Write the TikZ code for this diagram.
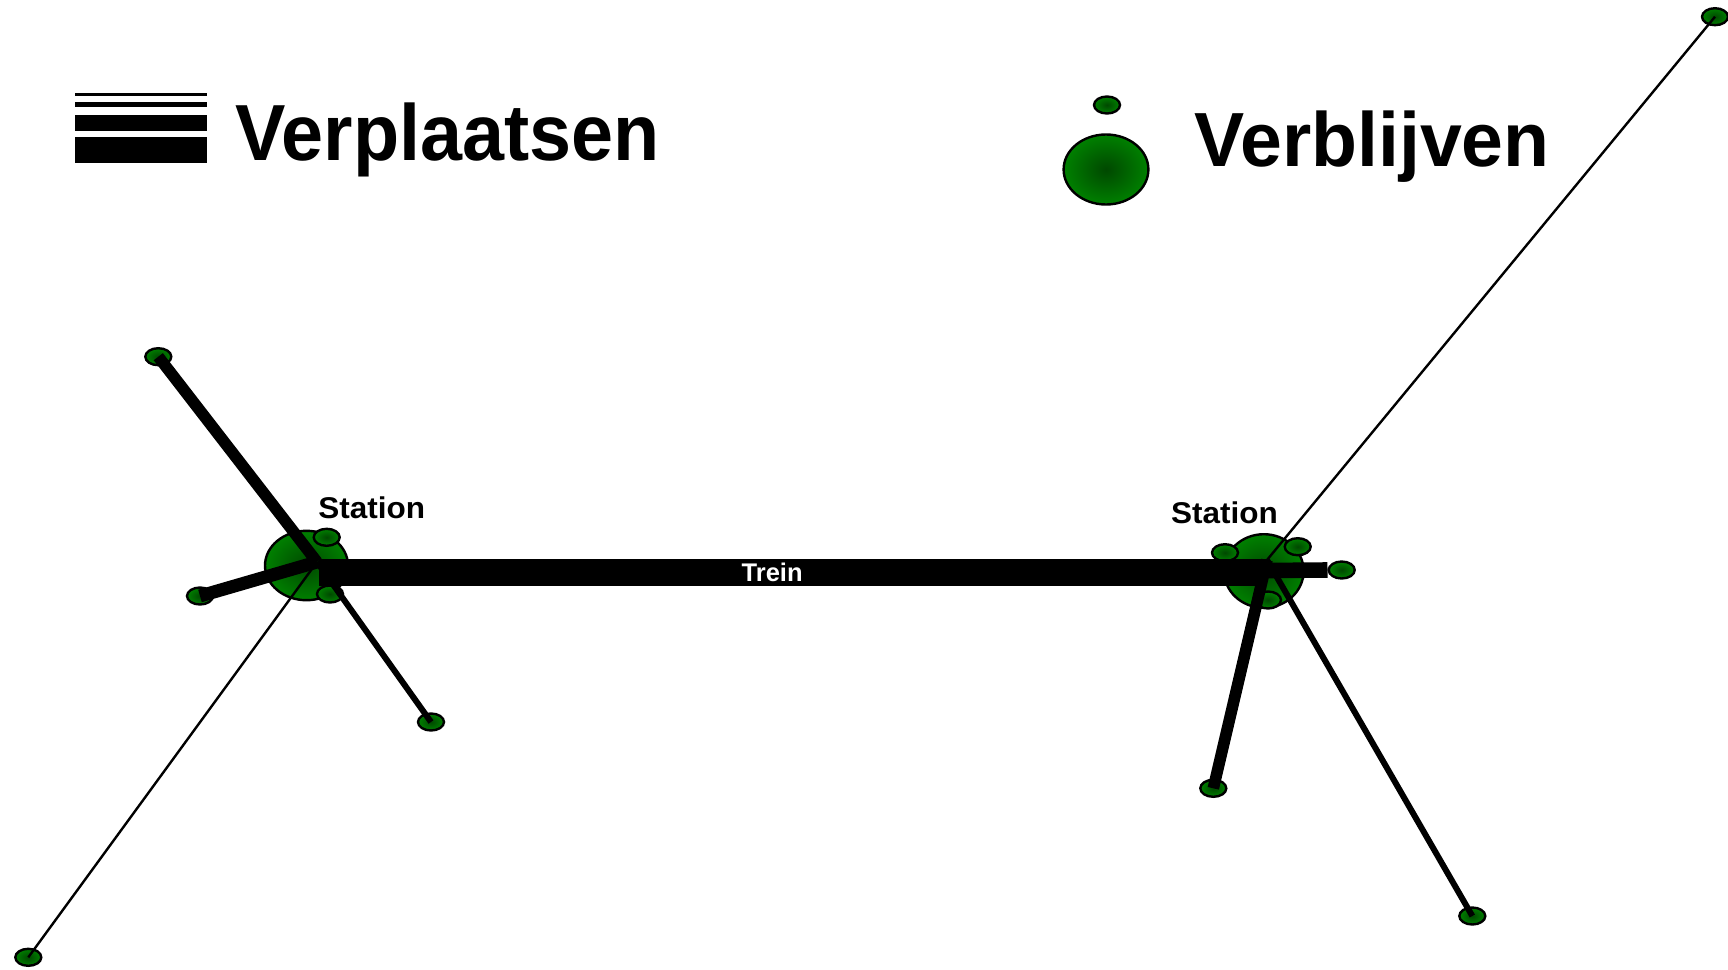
\documentclass[tikz,border=0pt]{standalone}
\usepackage{fontspec}
\setmainfont{Liberation Sans}
\usetikzlibrary{shapes.geometric}
\definecolor{verblijfgroen}{RGB}{0,128,0}
\definecolor{verblijfdonker}{RGB}{0,72,0}
\tikzset{
  verblijf/.style={ellipse, draw, line width=1.2pt, inner sep=0pt,
    inner color=verblijfdonker, outer color=verblijfgroen,
    minimum width=13pt, minimum height=8.5pt},
  groot/.style={verblijf, minimum width=#1},
  dun/.style={line width=1.2pt},
  middel/.style={line width=3pt},
  dik/.style={line width=5.8pt},
  dikker/.style={line width=6.5pt},
  spoor/.style={line width=13.5pt},
  titel/.style={inner sep=0pt, anchor=base west, font=\bfseries\fontsize{#1}{#1}\selectfont},
  treinlabel/.style={inner sep=0pt, text=white, font=\bfseries\fontsize{12.75}{13}\selectfont}
}
\begin{document}
\begin{tikzpicture}[x=0.5pt,y=-0.5pt]
  \useasboundingbox (0,0) rectangle (1728,969);
  % legenda
  \foreach \y/\w in {94.7/1.35, 104.5/2.2, 122.7/8, 150.3/13}
  \draw[line width=\w pt] (75,\y) -- (207,\y);
  \node[titel=39.8] (verplaatsen) at (235,160) {\scalebox{.949}[1]{Verplaatsen}};
  \node[verblijf] (legklein) at (1107,105) {};
  \node[groot=42.4pt, minimum height=35pt] (leggroot) at (1106,169.5) {};
  \node[titel=38.4] (verblijven) at (1194,166) {\scalebox{.979}[1]{Verblijven}};
  % stations
  \node[groot=41.5pt, minimum height=34.7pt] (stationA) at (306.5,565.5) {};
  \node[groot=39.8pt, minimum height=36.8pt] (stationB) at (1263.8,571) {};
  \node[verblijf] (aN) at (326.7,537.3) {};
  \node[verblijf] (aZ) at (330,594) {};
  \node[verblijf] (bW) at (1225,552.7) {};
  \node[verblijf] (bN) at (1297.7,546.7) {};
  \node[verblijf] (bZ) at (1268,600) {};
  \node[titel=15] (labelA) at (318,518.3) {\scalebox{1.05}[1]{Station}};
  \node[titel=15] (labelB) at (1170.7,523) {\scalebox{1.05}[1]{Station}};
  % eindpunten
  \node[verblijf] (aNW) at (158.3,356.7) {};
  \node[verblijf] (aW) at (200,596) {};
  \node[verblijf] (aSE) at (431,722) {};
  \node[verblijf] (aSW) at (28.3,957.3) {};
  \node[verblijf] (bNE) at (1715,16.7) {};
  \node[verblijf] (bE) at (1341.7,570) {};
  \node[verblijf] (bS) at (1213.3,788.3) {};
  \node[verblijf] (bSE) at (1472.3,916) {};
  % verplaatsingen
  \coordinate (hubA) at (317,562);
  \coordinate (hubB) at (1267,560);
  \draw[dik] (hubA) -- (aNW.center);
  \draw[dikker] (hubA) -- (aW.center);
  \draw[middel] (hubA) -- (aSE.center);
  \draw[dun] (hubA) -- (aSW.center);
  \draw[dun] (hubB) -- (bNE.center);
  \draw[dik] (hubB) -- (bS.center);
  \draw[middel] (hubB) -- (bSE.center);
  \coordinate (oostB) at (1268,570.5);
  \draw[line width=7.8pt] (oostB) -- (bE.west);
  \coordinate (treinA) at (319,572.5);
  \coordinate (treinB) at (1267,572.5);
  \draw[spoor] (treinA) -- node[treinlabel, pos=.478] (trein) {Trein} (treinB);
\end{tikzpicture}
\end{document}
